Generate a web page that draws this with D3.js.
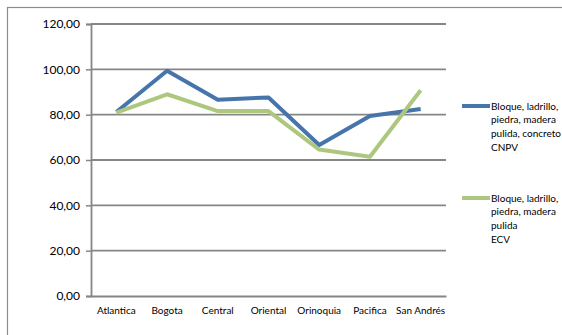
<!DOCTYPE html>
<html>
<head>
<meta charset="utf-8">
<script src="https://cdn.jsdelivr.net/npm/d3@7"></script>
<style>
  html, body { margin: 0; padding: 0; background: #fff; }
  svg { display: block; font-family: Lato, "Open Sans", sans-serif; }
</style>
</head>
<body>
<svg id="chart" width="562" height="335"></svg>
<script>
// Regions and the two housing-material series (percentages)
const regions = ["Atlantica", "Bogota", "Central", "Oriental", "Orinoquia", "Pacifica", "San Andrés"];
const cnpv = [81.2, 99.4, 86.6, 87.6, 66.6, 79.4, 82.5];
const ecv  = [80.9, 89.0, 81.6, 81.6, 64.6, 61.4, 90.8];
const yTicks = [0, 20, 40, 60, 80, 100, 120];
const legendCnpv = ["Bloque, ladrillo,", "piedra, madera", "pulida, concreto", "CNPV"];
const legendEcv  = ["Bloque, ladrillo,", "piedra, madera", "pulida", "ECV"];

const svg = d3.select("#chart");
const gridColor = "#868686";
const blue = "#4674AB";
const green = "#ADC87E";

// outer chart frame
svg.append("rect")
  .attr("x", 7.5).attr("y", 7.5)
  .attr("width", 700).attr("height", 500)
  .attr("fill", "none").attr("stroke", "#8c8c8c").attr("stroke-width", 1.2);

const plot = { left: 91, right: 446, top: 24, bottom: 296 };

const x = d3.scaleBand().domain(regions).range([plot.left, plot.right]);
const y = d3.scaleLinear().domain([0, 120]).range([plot.bottom, plot.top]);

// horizontal gridlines
svg.append("g").selectAll("line")
  .data(yTicks.filter(d => d > 0))
  .join("line")
  .attr("x1", plot.left).attr("x2", plot.right)
  .attr("y1", d => y(d)).attr("y2", d => y(d))
  .attr("stroke", gridColor).attr("stroke-width", 1.8);

// y axis
const yAxis = svg.append("g")
  .attr("transform", `translate(${plot.left},0)`)
  .call(d3.axisLeft(y).tickValues(yTicks).tickSize(5).tickPadding(6)
    .tickFormat(d => d3.format(".2f")(d).replace(".", ",")));
yAxis.select(".domain").attr("stroke", gridColor).attr("stroke-width", 1.8);
yAxis.selectAll(".tick line").attr("stroke", gridColor).attr("stroke-width", 1.5);
yAxis.selectAll(".tick text").attr("font-size", 12).attr("fill", "#000")
  .attr("font-family", "Lato, sans-serif");

// x axis
const xAxis = svg.append("g")
  .attr("transform", `translate(0,${plot.bottom})`)
  .call(d3.axisBottom(x).tickSize(0).tickPadding(11));
xAxis.select(".domain").attr("stroke", gridColor).attr("stroke-width", 1.8);
xAxis.selectAll(".tick text").attr("font-size", 10).attr("fill", "#000")
  .attr("font-family", "Lato, sans-serif");

// series lines
const line = d3.line()
  .x((d, i) => x(regions[i]) + x.bandwidth() / 2)
  .y(d => y(d));

svg.append("path").datum(cnpv)
  .attr("d", line).attr("fill", "none")
  .attr("stroke", blue).attr("stroke-width", 4).attr("stroke-linejoin", "round");
svg.append("path").datum(ecv)
  .attr("d", line).attr("fill", "none")
  .attr("stroke", green).attr("stroke-width", 4).attr("stroke-linejoin", "round");

// legend
function legendEntry(yPos, color, lines) {
  const g = svg.append("g");
  g.append("line")
    .attr("x1", 462).attr("x2", 490)
    .attr("y1", yPos).attr("y2", yPos)
    .attr("stroke", color).attr("stroke-width", 4);
  g.append("text")
    .attr("x", 491).attr("y", yPos + 3.5)
    .attr("font-size", 10).attr("fill", "#000")
    .selectAll("tspan").data(lines).join("tspan")
    .attr("x", 491).attr("dy", (d, i) => i === 0 ? 0 : 13.7)
    .text(d => d);
}
legendEntry(106, blue, legendCnpv);
legendEntry(198, green, legendEcv);
</script>
</body>
</html>
